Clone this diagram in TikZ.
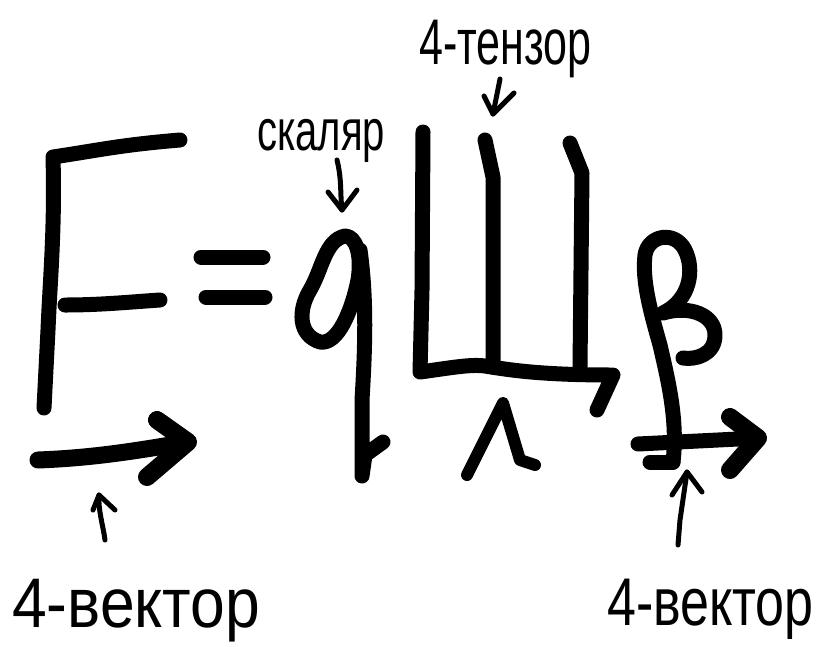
\documentclass[tikz,border=0pt]{standalone}
\usepackage{fontspec}
\setmainfont{Liberation Sans}
\begin{document}
\begin{tikzpicture}[x=1pt,y=-1pt,
  bigpen/.style={line width=15pt, line cap=round, line join=round},
  headpen/.style={line width=18pt, line cap=round, line join=round},
  smallpen/.style={line width=5pt, line cap=round, line join=round},
  lbl/.style={inner sep=0pt, anchor=base west}]
\useasboundingbox[fill=white] (0,0) rectangle (822,646);

% ---- F ----
\coordinate (Ftop) at (180,140);
\coordinate (Fcorner) at (53,157);
\coordinate (Fbot) at (44,408);
\coordinate (Fmid1) at (65,305);
\coordinate (Fmid2) at (160,300);
\draw[bigpen] (Ftop) .. controls (120,145) and (100,150) .. (Fcorner)
   .. controls (55,230) and (50,280) .. (48,330) -- (Fbot);
\draw[bigpen] (Fmid1) .. controls (100,305) and (130,302) .. (Fmid2);
% arrow under F
\coordinate (Fa1) at (38,460);
\coordinate (Fa2) at (188,442);
\draw[bigpen, line width=17pt] (Fa1) .. controls (90,458) and (130,452) .. (Fa2);
\draw[headpen] (157,420) -- (Fa2) -- (147,477);

% ---- = ----
\draw[bigpen] (201,257) -- (263,257);
\draw[bigpen] (206,297) -- (265,297);

% ---- q ----
\coordinate (qtop) at (345,236);
\draw[bigpen] (qtop) .. controls (325,240) and (322,270) .. (310,290)
   .. controls (298,310) and (298,335) .. (320,342)
   .. controls (338,345) and (352,310) .. (358,280)
   .. controls (362,255) and (356,236) .. (qtop);
\draw[bigpen] (360,250) .. controls (367,300) and (365,350) .. (362,400)
   -- (362,476) -- (365,455) -- (383,442);

% ---- Щ ----
\coordinate (Sh1) at (423,132);
\draw[bigpen] (Sh1) -- (422,290) -- (420,372)
   .. controls (450,368) and (470,364) .. (485,366)
   .. controls (510,370) and (540,375) .. (613,375) -- (597,410);
\draw[bigpen] (485,140) -- (493,177) -- (493,367);
\draw[bigpen] (570,143) -- (582,173) -- (580,367);
% Λ under Щ
\draw[bigpen, line width=12pt] (467,475) -- (503,403) -- (520,460) -- (535,465);

% ---- β ----
\draw[bigpen] (673,462) .. controls (678,420) and (668,380) .. (660,345)
   .. controls (650,310) and (642,280) .. (645,255)
   .. controls (648,235) and (675,230) .. (685,250)
   .. controls (695,270) and (690,300) .. (663,313)
   .. controls (690,305) and (715,315) .. (715,335)
   .. controls (715,355) and (695,360) .. (683,358);
\draw[bigpen] (650,462) -- (673,462);
% arrow under β
\coordinate (Ba1) at (638,444);
\coordinate (Ba2) at (758,438);
\draw[bigpen] (Ba1) -- (Ba2);
\draw[headpen] (730,417) -- (Ba2) -- (730,470);

% ---- labels ----
\node[lbl] (skal) at (257,150) {\scalebox{1}[1.45]{\fontsize{40}{40}\selectfont скаляр}};
\node[lbl] (tenz) at (419,64) {\scalebox{1}[1.5]{\fontsize{43}{43}\selectfont 4-тензор}};
\node[lbl] (vecL) at (12,627) {\scalebox{1.2}[1.35]{\fontsize{52}{52}\selectfont 4-вектор}};
\node[lbl] (vecR) at (607,625) {\scalebox{1.04}[1.35]{\fontsize{50}{50}\selectfont 4-вектор}};

% label arrows
\coordinate (sa1) at (337,160);
\coordinate (sa2) at (342,210);
\draw[smallpen] (sa1) .. controls (342,180) and (340,195) .. (sa2);
\draw[smallpen] (328,192) -- (sa2) -- (357,190);

\coordinate (ta1) at (500,79);
\coordinate (ta2) at (493,114);
\draw[smallpen] (ta1) -- (ta2);
\draw[smallpen] (484,96) -- (ta2) -- (514,93);

\coordinate (la1) at (105,540);
\coordinate (la2) at (99,495);
\draw[smallpen] (la1) .. controls (103,525) and (98,510) .. (la2);
\draw[smallpen] (93,510) -- (la2) -- (115,510);

\coordinate (ra1) at (678,545);
\coordinate (ra2) at (687,472);
\draw[smallpen] (ra1) -- (680,520) -- (ra2);
\draw[smallpen] (672,495) -- (ra2) -- (702,492);
\end{tikzpicture}
\end{document}
